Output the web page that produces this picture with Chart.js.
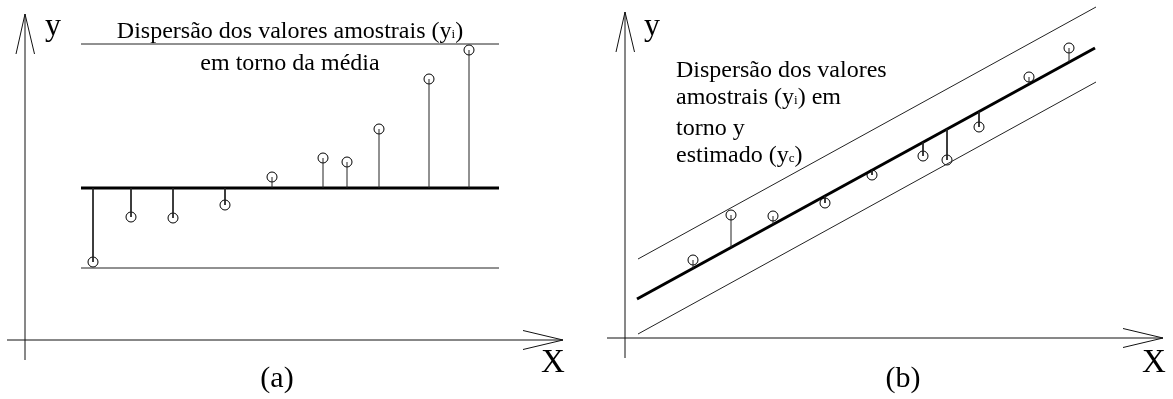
<!DOCTYPE html>
<html lang="pt">
<head>
<meta charset="utf-8">
<title>Dispersão em torno da média e da reta estimada</title>
<script src="https://cdn.jsdelivr.net/npm/chart.js@4.4.1/dist/chart.umd.min.js"></script>
<style>
  html, body { margin: 0; padding: 0; background: #fff; }
  #stage { position: relative; width: 1173px; height: 399px; overflow: hidden;
           font-family: "Liberation Serif", "DejaVu Serif", serif; color: #000; }
  #stage canvas { position: absolute; top: 0; }
  .lbl { position: absolute; white-space: nowrap; line-height: 1; }
  .note { position: absolute; white-space: nowrap; font-size: 24px; }
  .sub { font-size: 0.55em; }
</style>
</head>
<body>
<div id="stage">
  <canvas id="panelA" width="600" height="399" style="left:0"></canvas>
  <canvas id="panelB" width="573" height="399" style="left:600px"></canvas>

  <div class="lbl" style="left:45px; top:8px; font-size:32px;">y</div>
  <div class="lbl" style="left:541px; top:345px; font-size:33px;">X</div>
  <div class="lbl" style="left:277px; top:362px; font-size:30px; transform:translateX(-50%);">(a)</div>
  <div class="note" style="left:290px; top:16px; line-height:28px; text-align:center; transform:translateX(-50%);">
    Dispersão dos valores amostrais (y<span class="sub">i</span>)<br>em torno da média
  </div>

  <div class="lbl" style="left:644px; top:8px; font-size:32px;">y</div>
  <div class="lbl" style="left:1142px; top:345px; font-size:33px;">X</div>
  <div class="lbl" style="left:903px; top:362px; font-size:30px; transform:translateX(-50%);">(b)</div>
  <div class="note" style="left:676px; top:56px; line-height:27.3px;">
    Dispersão dos valores<br>amostrais (y<span class="sub">i</span>) em<br>torno y<br>estimado (y<span class="sub">c</span>)
  </div>
</div>

<script>
/* ------------------------------------------------------------
   Amostra (x, y) - a mesma nos dois painéis
   ------------------------------------------------------------ */
const sampleX = [6.8, 10.6, 14.8, 20.0, 24.7, 29.8, 32.2, 35.4, 40.4, 44.4];
const sampleY = [7.8, 12.3, 12.2, 13.5, 16.3, 18.2, 17.8, 21.1, 26.1, 29.0];

// (a) nível da média e limites da dispersão
const levelX = [5.6, 47.4];
const meanY = 15.2;
const upperY = 29.6;
const lowerY = 7.2;

// (b) reta estimada e retas paralelas de limite
const fitX = [1.2, 47.0];
const fitY = [3.9, 29.0];
const bandX = [1.3, 47.1];
const bandUpperY = [7.9, 33.1];
const bandLowerY = [0.4, 25.6];

// eixos
const axisX = [-1.8, 53.8];
const axisY = [-2.0, 32.6];

const PX = 10; // pixels por unidade

function seg(xs, ys) {
  return xs.map((x, i) => ({ x, y: ys[i] }));
}

function line(data, width, color) {
  return { data, showLine: true, borderColor: color || '#000', borderWidth: width,
           pointRadius: 0, fill: false, tension: 0 };
}

function axesDatasets() {
  const tipX = axisX[1], tipY = axisY[1];
  return [
    line(seg(axisX, [0, 0]), 1, '#111'),
    line(seg(axisX.map(() => 0), axisY), 1, '#111'),
    line(seg([tipX - 4, tipX, tipX - 4], [0.95, 0, -0.95]), 1, '#111'),
    line(seg([-0.9, 0, 0.95], [tipY - 4, tipY, tipY - 4]), 1, '#111'),
  ];
}

function pointsDataset() {
  return { data: seg(sampleX, sampleY), showLine: false, pointStyle: 'circle',
           pointRadius: 5, borderWidth: 1, borderColor: '#000',
           backgroundColor: 'rgba(0,0,0,0)' };
}

function fitAt(x) {
  return fitY[0] + (x - fitX[0]) * (fitY[1] - fitY[0]) / (fitX[1] - fitX[0]);
}

function makePanel(id, width, originX, originY, datasets) {
  return new Chart(document.getElementById(id).getContext('2d'), {
    type: 'scatter',
    data: { datasets },
    options: {
      responsive: false,
      animation: false,
      events: [],
      devicePixelRatio: 1,
      layout: { padding: 0, autoPadding: false },
      plugins: { legend: { display: false }, tooltip: { enabled: false } },
      scales: {
        x: { type: 'linear', display: false, min: -originX / PX, max: (width - originX) / PX },
        y: { type: 'linear', display: false, min: -(399 - originY) / PX, max: originY / PX }
      }
    }
  });
}

// (a) desvios em torno da média
const stemsA = sampleX.map((x, i) => line(seg([x, x], [meanY, sampleY[i]]), 1, '#222'));
makePanel('panelA', 600, 25, 340, [
  ...axesDatasets(),
  line(seg(levelX, [upperY, upperY]), 1, '#222'),
  line(seg(levelX, [lowerY, lowerY]), 1, '#222'),
  ...stemsA,
  line(seg(levelX, [meanY, meanY]), 3, '#000'),
  pointsDataset(),
]);

// (b) desvios em torno da reta estimada
const stemsB = sampleX.map((x, i) => line(seg([x, x], [fitAt(x), sampleY[i]]), 1, '#222'));
makePanel('panelB', 573, 25, 338, [
  ...axesDatasets(),
  line(seg(bandX, bandUpperY), 1, '#222'),
  line(seg(bandX, bandLowerY), 1, '#222'),
  ...stemsB,
  line(seg(fitX, fitY), 3, '#000'),
  pointsDataset(),
]);
</script>
</body>
</html>
